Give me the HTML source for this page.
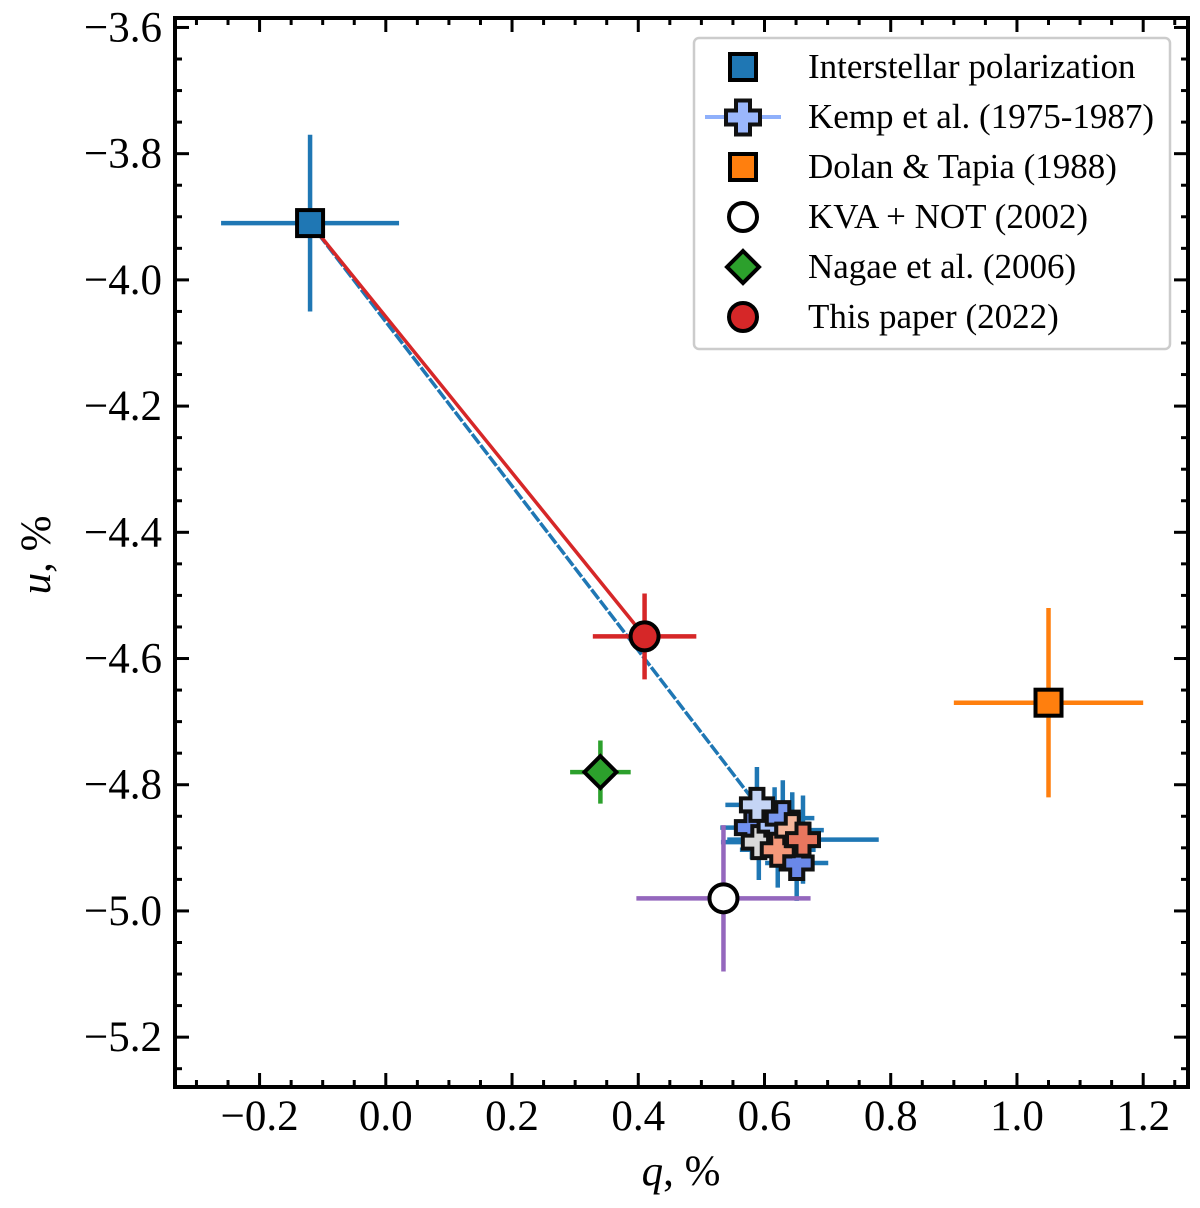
<!DOCTYPE html>
<html><head><meta charset="utf-8"><style>
html,body{margin:0;padding:0;background:#fff;}
svg{display:block;font-family:"Liberation Serif",serif;}
</style></head><body>
<svg id="chart" width="1200" height="1208" viewBox="0 0 1200 1208"></svg>
<script>
const xTicks=[-0.2,0.0,0.2,0.4,0.6,0.8,1.0,1.2];
const xTickLabels=["\u22120.2","0.0","0.2","0.4","0.6","0.8","1.0","1.2"];
const yTicks=[-3.6,-3.8,-4.0,-4.2,-4.4,-4.6,-4.8,-5.0,-5.2];
const yTickLabels=["\u22123.6","\u22123.8","\u22124.0","\u22124.2","\u22124.4","\u22124.6","\u22124.8","\u22125.0","\u22125.2"];
const ispPoint=[-0.12,-3.91,0.141,0.14];
const thisPaper=[0.41,-4.565,0.082,0.068];
const dolanPoint=[1.05,-4.67,0.15,0.15];
const kvaPoint=[0.535,-4.98,0.138,0.116];
const nagaePoint=[0.34,-4.78,0.048,0.05];
const kempQ=[0.58,0.591,0.616,0.629,0.651,0.621,0.644,0.588,0.661];
const kempU=[-4.868,-4.891,-4.864,-4.853,-4.924,-4.903,-4.872,-4.832,-4.887];
const kempQErr=[0.05,0.06,0.05,0.05,0.05,0.06,0.05,0.05,0.12];
const kempUErr=[0.05,0.06,0.06,0.06,0.06,0.06,0.06,0.06,0.07];
const kempColors=["#7090f0","#d9d9d9","#a9c3fb","#7a98f0","#6a88e8","#f4987a","#f5b59a","#c5d5f5","#e8765e"];

const L=175,R=1188,T=18,B=1087;
const X0=-0.334,X1=1.271,Y0=-5.279,Y1=-3.585;
const sx=v=>L+(v-X0)/(X1-X0)*(R-L);
const sy=v=>B-(v-Y0)/(Y1-Y0)*(B-T);
const svg=document.getElementById('chart');
const NS='http://www.w3.org/2000/svg';
function mk(tag,attrs,parent){const e=document.createElementNS(NS,tag);for(const k in attrs)e.setAttribute(k,attrs[k]);(parent||svg).appendChild(e);return e;}

const axG=mk('g',{});


for(let v=-0.3;v<=1.26;v+=0.05){
  const x=sx(v);const major=Math.abs(Math.round(v*5)-v*5)<1e-6;
  const len=major?14:7;
  mk('line',{x1:x,y1:B,x2:x,y2:B-len,stroke:'#000','stroke-width':3},axG);
  mk('line',{x1:x,y1:T,x2:x,y2:T+len,stroke:'#000','stroke-width':3},axG);
}
for(let v=-5.25;v<=-3.6;v+=0.05){
  const y=sy(v);const major=Math.abs(Math.round(v*5)-v*5)<1e-6;
  const len=major?14:7;
  mk('line',{x1:L,y1:y,x2:L+len,y2:y,stroke:'#000','stroke-width':3},axG);
  mk('line',{x1:R,y1:y,x2:R-len,y2:y,stroke:'#000','stroke-width':3},axG);
}
xTicks.forEach((v,i)=>{const t=mk('text',{x:sx(v),y:1130,'text-anchor':'middle','font-size':43},axG);t.textContent=xTickLabels[i];

});
yTicks.forEach((v,i)=>{const t=mk('text',{x:162,y:sy(v)+14,'text-anchor':'end','font-size':43},axG);t.textContent=yTickLabels[i];

});
const xl=mk('text',{x:681,y:1185,'text-anchor':'middle','font-size':43},axG);
xl.innerHTML='<tspan font-style="italic">q</tspan>, %';


const yl=mk('text',{x:0,y:0,'text-anchor':'middle','font-size':43,transform:'translate(50,555) rotate(-90)'},axG);
yl.innerHTML='<tspan font-style="italic">u</tspan>, %';



const l1=mk('line',{x1:sx(ispPoint[0]),y1:sy(ispPoint[1]),x2:sx(kempQ[7]),y2:sy(kempU[7]),stroke:'#1f77b4','stroke-width':3.5,'stroke-dasharray':'12,2'});


const l2=mk('line',{x1:sx(ispPoint[0]),y1:sy(ispPoint[1]),x2:sx(thisPaper[0]),y2:sy(thisPaper[1]),stroke:'#d62728','stroke-width':3.5});



function errbar(p,color,g){
  const [q,u,eq,eu]=p;
  mk('line',{x1:sx(q-eq),y1:sy(u),x2:sx(q+eq),y2:sy(u),stroke:color,'stroke-width':4.5},g);
  mk('line',{x1:sx(q),y1:sy(u-eu),x2:sx(q),y2:sy(u+eu),stroke:color,'stroke-width':4.5},g);
}
function crossPath(cx,cy,s,w){
  return `M${cx-w},${cy-s}H${cx+w}V${cy-w}H${cx+s}V${cy+w}H${cx+w}V${cy+s}H${cx-w}V${cy+w}H${cx-s}V${cy-w}H${cx-w}Z`;
}
const kg=mk('g',{});


kempQ.forEach((q,i)=>errbar([q,kempU[i],kempQErr[i],kempUErr[i]],'#1f77b4',kg));
kempQ.forEach((q,i)=>{
  const p=mk('path',{d:crossPath(sx(q),sy(kempU[i]),16,6.5),fill:kempColors[i],stroke:'#111','stroke-width':4},kg);
  
  
});

function series(name,p,color,shape,fill){
  const g=mk('g',{});
  
  
  errbar(p,color,g);
  const cx=sx(p[0]),cy=sy(p[1]);
  let m;
  if(shape==='square')m=mk('rect',{x:cx-13,y:cy-13,width:26,height:26,fill:fill,stroke:'#000','stroke-width':4},g);
  else if(shape==='circle')m=mk('circle',{cx:cx,cy:cy,r:14,fill:fill,stroke:'#000','stroke-width':4},g);
  else m=mk('path',{d:`M${cx},${cy-16}L${cx+16},${cy}L${cx},${cy+16}L${cx-16},${cy}Z`,fill:fill,stroke:'#000','stroke-width':4},g);
  
  
}
series('isp-series',ispPoint,'#1f77b4','square','#1f77b4');
series('dolan-series',dolanPoint,'#ff7f0e','square','#ff7f0e');
series('kva-series',kvaPoint,'#9467bd','circle','#ffffff');
series('nagae-series',nagaePoint,'#2ca02c','diamond','#2ca02c');
series('this-paper-series',thisPaper,'#d62728','circle','#d62728');

const fr=mk('rect',{x:L,y:T,width:R-L,height:B-T,fill:'none',stroke:'#000','stroke-width':4});



const lg=mk('g',{});


mk('rect',{x:694,y:38,width:476,height:311,rx:5,fill:'#fff',stroke:'#ccc','stroke-width':2.5},lg);
const labels=["Interstellar polarization","Kemp et al. (1975-1987)","Dolan & Tapia (1988)","KVA + NOT (2002)","Nagae et al. (2006)","This paper (2022)"];
const mx=743;
labels.forEach((s,i)=>{
  const y=67+i*50;
  const e=mk('g',{},lg);
  
  
  if(i===0){mk('rect',{x:mx-13,y:y-13,width:26,height:26,fill:'#1f77b4',stroke:'#000','stroke-width':4},e);}
  if(i===1){mk('line',{x1:705,y1:y,x2:781,y2:y,stroke:'#8fb0fb','stroke-width':4},e);mk('path',{d:crossPath(mx,y+0.5,17,7),fill:'#9bb7fc',stroke:'#111','stroke-width':4},e);}
  if(i===2){mk('rect',{x:mx-13,y:y-13,width:26,height:26,fill:'#ff7f0e',stroke:'#000','stroke-width':4},e);}
  if(i===3){mk('circle',{cx:mx,cy:y,r:14,fill:'#fff',stroke:'#000','stroke-width':4},e);}
  if(i===4){mk('path',{d:`M${mx},${y-16}L${mx+16},${y}L${mx},${y+16}L${mx-16},${y}Z`,fill:'#2ca02c',stroke:'#000','stroke-width':4},e);}
  if(i===5){mk('circle',{cx:mx,cy:y,r:14,fill:'#d62728',stroke:'#000','stroke-width':4},e);}
  const t=mk('text',{x:808,y:y+11,'font-size':35},e);t.textContent=s;
});
</script>
</body></html>
